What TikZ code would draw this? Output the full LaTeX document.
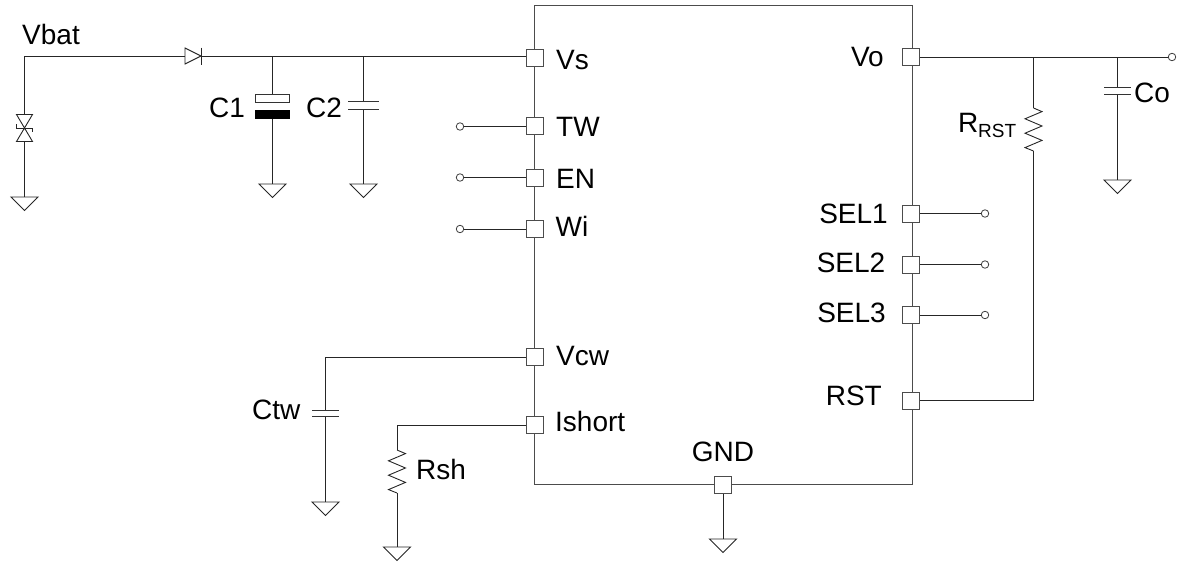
\documentclass[tikz,border=0pt]{standalone}
\usepackage{fontspec}
\setmainfont{Liberation Sans}
\tikzset{
  wire/.style={draw=black!85!white,line width=0.9pt,line join=miter},
  pinbox/.style={draw=black!70!white,fill=white,line width=1pt,minimum size=17pt,inner sep=0pt,rectangle},
  term/.style={circle,draw=black!75!white,fill=white,line width=0.8pt,minimum size=7.5pt,inner sep=0pt},
  lbl/.style={font=\fontsize{28}{28}\selectfont,inner sep=0pt,text=black},
  plate/.style={draw=black!80!white,line width=1pt},
}
\newcommand{\gndsym}[1]{\draw[wire,fill=white] ($(#1)+(-13.5,0)$) -- ($(#1)+(13.5,0)$) -- ($(#1)+(0,13.5)$) -- cycle;}
\newcommand{\capsym}[3]{\draw[plate] ($(#1)+(-#3,0)$) -- ($(#1)+(#3,0)$) ($(#2)+(-#3,0)$) -- ($(#2)+(#3,0)$);}
\newcommand{\ressym}[2]{\draw[wire] (#1) -- ++(8.5,3.6) -- ++(-17,7.2) -- ++(17,7.2) -- ++(-17,7.2) -- ++(17,7.2) -- ++(-17,7.2) -- (#2);}
\usetikzlibrary{calc}
\begin{document}
\begin{tikzpicture}[x=1pt,y=-1pt]
\useasboundingbox (0,0) rectangle (1186,562);
% package
\draw[wire,draw=black!70!white,line width=1pt] (534.5,5) rectangle (912,484.5);
% pins
\node[pinbox] (vs) at (534.5,57.5) {};
\node[pinbox] (tw) at (534.5,126) {};
\node[pinbox] (en) at (534.5,177.5) {};
\node[pinbox] (wi) at (534.5,229) {};
\node[pinbox] (vcw) at (534.5,357) {};
\node[pinbox] (ish) at (534.5,425) {};
\node[pinbox] (vo) at (911,57) {};
\node[pinbox] (sel1) at (911,213.5) {};
\node[pinbox] (sel2) at (911,264.5) {};
\node[pinbox] (sel3) at (911,315) {};
\node[pinbox] (rst) at (911,400.5) {};
\node[pinbox] (gnd) at (723,485) {};
% terminals
\node[term] (ttw) at (460,126.5) {};
\node[term] (ten) at (460,177.5) {};
\node[term] (twi) at (460,229) {};
\node[term] (ts1) at (985,213.5) {};
\node[term] (ts2) at (985,264.5) {};
\node[term] (ts3) at (985,315) {};
\node[term] (tvo) at (1172,57) {};
\draw[wire] (ttw) -- (ttw-|tw.west);
\draw[wire] (ten) -- (en);
\draw[wire] (twi) -- (wi);
\draw[wire] (sel1) -- (ts1);
\draw[wire] (sel2) -- (ts2);
\draw[wire] (sel3) -- (ts3);
\draw[wire] (vo) -- (tvo);
% coordinates
\coordinate (vbat) at (24.5,56);
\coordinate (da) at (185,56);
\coordinate (dk) at (201,56);
\coordinate (tvsT) at (24.5,114.5);
\coordinate (tvsB) at (24.5,141.5);
\coordinate (g0) at (24.5,197);
\coordinate (j1) at (272.5,56);
\coordinate (c1a) at (272.5,94);
\coordinate (c1b) at (272.5,119);
\coordinate (g1) at (272.5,184);
\coordinate (j2) at (363.5,56);
\coordinate (c2a) at (363.5,101);
\coordinate (c2b) at (363.5,109);
\coordinate (g2) at (363.5,184);
\coordinate (j3) at (1033.5,57);
\coordinate (r1a) at (1033.5,108);
\coordinate (r1b) at (1033.5,151);
\coordinate (j3b) at (1033.5,400.5);
\coordinate (j4) at (1117.5,57);
\coordinate (coa) at (1117.5,87);
\coordinate (cob) at (1117.5,94);
\coordinate (g3) at (1117.5,180);
\coordinate (cw0) at (325.5,358);
\coordinate (cwa) at (325.5,410);
\coordinate (cwb) at (325.5,416);
\coordinate (g4) at (325.5,502);
\coordinate (rs0) at (397,425);
\coordinate (rsa) at (397,450);
\coordinate (rsb) at (397,493);
\coordinate (g5) at (397,547);
\coordinate (g6) at (723,539);
% left input
\draw[wire] (tvsT) -- (vbat) -- (da);
\draw[wire] (dk) -- (dk-|vs.west);
\draw[wire,fill=white] (185,48) -- (185,64) -- (dk) -- cycle;
\draw[wire] (201,47.5) -- (201,64.5);
% TVS
\draw[wire] (16.5,114.5) -- (32.5,114.5) -- (16.5,141.5) -- (32.5,141.5) -- cycle;
\draw[wire] (16.5,124) -- (16.5,128) -- (32.5,128) -- (32.5,132);
\draw[wire] (tvsB) -- (g0);
\gndsym{g0}
% C1
\draw[wire] (j1) -- (c1a);
\draw[wire] (c1b) -- (g1);
\draw[plate,fill=white] (255.5,94) rectangle (289.5,102);
\fill[black] (255,110) rectangle (290,119);
\gndsym{g1}
% C2
\draw[wire] (j2) -- (c2a);
\draw[wire] (c2b) -- (g2);
\capsym{c2a}{c2b}{15.5}
\gndsym{g2}
% R_RST
\draw[wire] (j3) -- (r1a);
\ressym{r1a}{r1b}
\draw[wire] (r1b) -- (j3b) -- (rst);
% Co
\draw[wire] (j4) -- (coa);
\draw[wire] (cob) -- (g3);
\capsym{coa}{cob}{13.5}
\gndsym{g3}
% Ctw
\draw[wire] (vcw) -- (vcw-|cw0) -- (cwa);
\draw[wire] (cwb) -- (g4);
\capsym{cwa}{cwb}{13.5}
\gndsym{g4}
% Rsh
\draw[wire] (ish) -- (rs0) -- (rsa);
\ressym{rsa}{rsb}
\draw[wire] (rsb) -- (g5);
\gndsym{g5}
% GND
\draw[wire] (gnd) -- (g6);
\gndsym{g6}
% labels
\node[lbl,anchor=base west] (lvbat) at (22,44) {Vbat};
\node[lbl,anchor=base west] (lc1) at (209,117) {C1};
\node[lbl,anchor=base west] (lc2) at (306,117) {C2};
\node[lbl,anchor=base west] (lvs) at (556,69) {Vs};
\node[lbl,anchor=base west] (ltw) at (556,136) {TW};
\node[lbl,anchor=base west] (len) at (556,188) {EN};
\node[lbl,anchor=base west] (lwi) at (555.5,236) {Wi};
\node[lbl,anchor=base west] (lvcw) at (556,365.5) {Vcw};
\node[lbl,anchor=base west] (lish) at (555,431.5) {Ishort};
\node[lbl,anchor=base east] (lvo) at (884,66) {Vo};
\node[lbl,anchor=base east] (ls1) at (888,223) {SEL1};
\node[lbl,anchor=base east] (ls2) at (885.5,272.5) {SEL2};
\node[lbl,anchor=base east] (ls3) at (886,322) {SEL3};
\node[lbl,anchor=base east] (lrst) at (882,405) {RST};
\node[lbl,anchor=base] (lgnd) at (723,461) {GND};
\node[lbl,anchor=base west] (lco) at (1134,102) {Co};
\node[lbl,anchor=base west] (lrr) at (958,132) {R};
\node[anchor=base west,inner sep=0pt,font=\fontsize{19}{19}\selectfont] (lrr2) at (978,137.5) {RST};
\node[lbl,anchor=base west] (lctw) at (252,419) {Ctw};
\node[lbl,anchor=base west] (lrsh) at (416,479) {Rsh};
\end{tikzpicture}
\end{document}
